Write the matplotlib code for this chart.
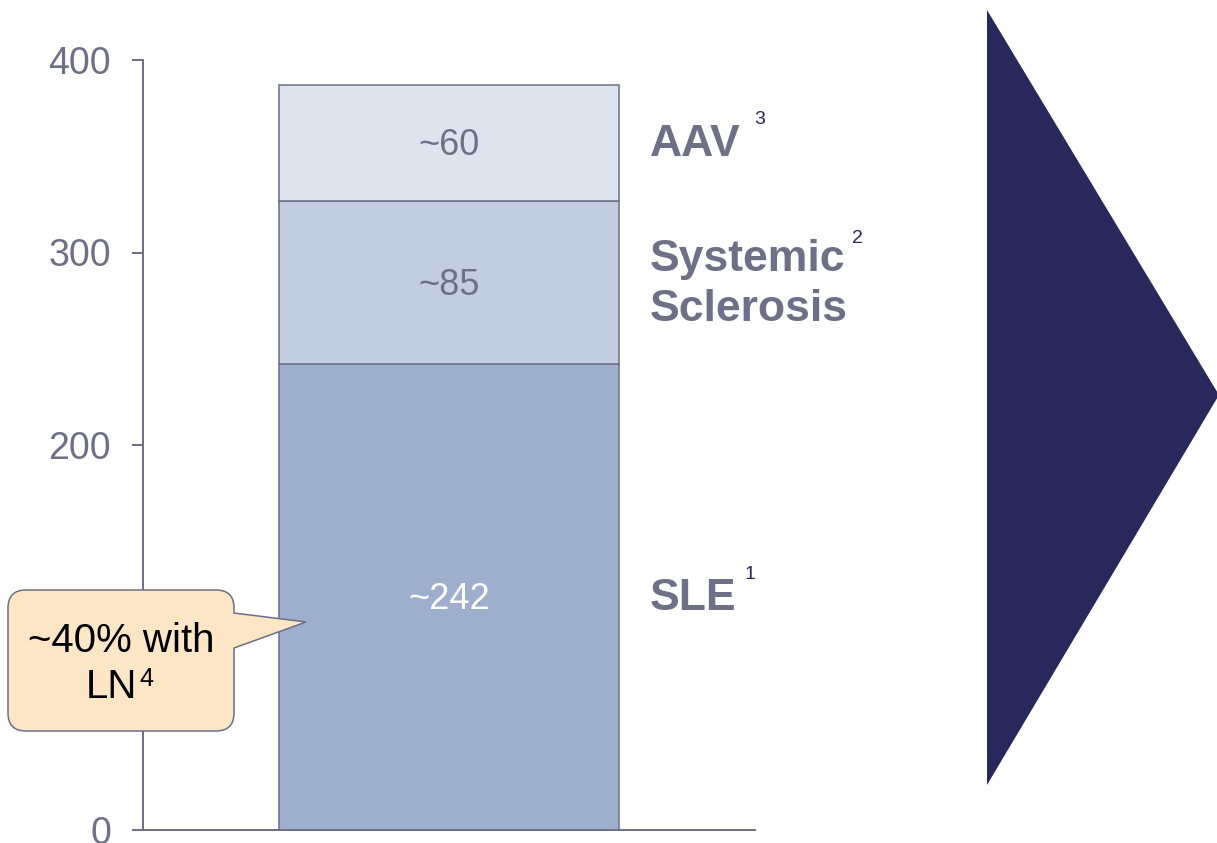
import matplotlib.pyplot as plt
from matplotlib.path import Path
from matplotlib.patches import PathPatch, Polygon

plt.rcParams['font.family'] = ['Liberation Sans', 'DejaVu Sans']

# stacked prevalence per 100,000
segments = ['SLE', 'Systemic\nSclerosis', 'AAV']
values = [242, 85, 60]
value_labels = ['~242', '~85', '~60']
refs = ['1', '2', '3']
colors = ['#9dafcd', '#c3cde0', '#dee4ee']
value_colors = ['white', '#6e7088', '#6e7088']
yticks = [0, 100, 200, 300, 400]

gray = '#6e7088'
edge = '#6b6e87'
navy = '#28285c'

W, H = 1217, 843
fig = plt.figure(figsize=(W / 100, H / 100), dpi=100)
ax = fig.add_axes([143 / W, 13 / H, 612 / W, 770 / H])
ax.set_xlim(0, 1)
ax.set_ylim(0, 400)

bottom = 0
for v, c in zip(values, colors):
    ax.bar(0.5, v, width=340 / 612, bottom=bottom, color=c,
           edgecolor=edge, linewidth=1.1, zorder=2)
    bottom += v

# value labels in the middle of each segment, names on the right
trans = ax.get_yaxis_transform()
sup_x = [0.992, 1.168, 1.008]
sup_dy = [11.5, 23, 12]
bottom = 0
for i, v in enumerate(values):
    mid = bottom + v / 2
    ax.text(0.5, mid - 1.5, value_labels[i], ha='center', va='center',
            fontsize=26, color=value_colors[i], zorder=3)
    ax.text(507 / 612, mid - 1, segments[i], ha='left', va='center',
            fontsize=32, fontweight='bold', color=gray, linespacing=1.27,
            transform=trans)
    ax.text(sup_x[i], mid + sup_dy[i], refs[i], ha='center', va='center',
            fontsize=14, color=navy, transform=trans)
    bottom += v

for s in ['top', 'right']:
    ax.spines[s].set_visible(False)
ax.spines['left'].set_color(edge)
ax.spines['bottom'].set_color(edge)
ax.spines['left'].set_linewidth(1.4)
ax.spines['bottom'].set_linewidth(1.4)
ax.set_xticks([])
ax.set_yticks(yticks)
ax.tick_params(axis='y', length=8, width=1.4, color=edge, pad=15,
               labelsize=27, labelcolor=gray)

# overlay in pixel coordinates for the callout and the arrow
ov = fig.add_axes([0, 0, 1, 1], zorder=5)
ov.set_xlim(0, W)
ov.set_ylim(H, 0)
ov.axis('off')

x0, x1, y0, y1, r = 8, 234, 590, 731, 18
verts = [
    (x0 + r, y0), (x1 - r, y0), (x1, y0), (x1, y0 + r),
    (x1, 613), (306, 622), (x1, 648),
    (x1, y1 - r), (x1, y1), (x1 - r, y1),
    (x0 + r, y1), (x0, y1), (x0, y1 - r),
    (x0, y0 + r), (x0, y0), (x0 + r, y0),
    (x0 + r, y0),
]
codes = [
    Path.MOVETO, Path.LINETO, Path.CURVE3, Path.CURVE3,
    Path.LINETO, Path.LINETO, Path.LINETO,
    Path.LINETO, Path.CURVE3, Path.CURVE3,
    Path.LINETO, Path.CURVE3, Path.CURVE3,
    Path.LINETO, Path.CURVE3, Path.CURVE3,
    Path.CLOSEPOLY,
]
ov.add_patch(PathPatch(Path(verts, codes), facecolor='#fde6c6',
                       edgecolor=edge, linewidth=1.1))
ov.text(121, 652, '~40% with', ha='center', va='baseline', fontsize=29,
        color='black')
ov.text(111, 698, 'LN', ha='center', va='baseline', fontsize=29,
        color='black')
ov.text(146, 686, '4', ha='center', va='baseline', fontsize=18,
        color='black')

ov.add_patch(Polygon([(987, 10), (1219, 395), (987, 785)], closed=True,
                     facecolor=navy, edgecolor='none'))

fig.savefig('out.png', dpi=100, facecolor='white')
